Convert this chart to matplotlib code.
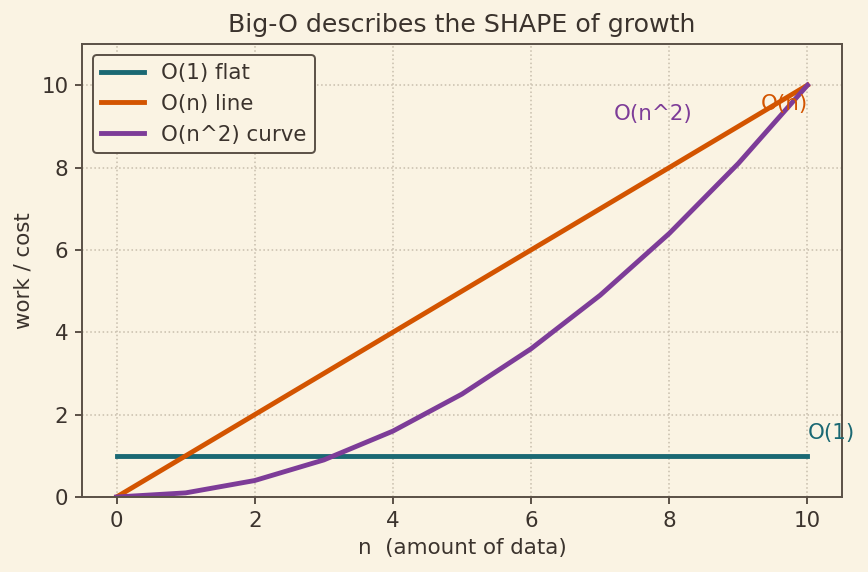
import matplotlib
matplotlib.use("Agg")
import matplotlib.pyplot as plt

n = [0, 1, 2, 3, 4, 5, 6, 7, 8, 9, 10]
o1 = [1, 1, 1, 1, 1, 1, 1, 1, 1, 1, 1]
on = [0, 1, 2, 3, 4, 5, 6, 7, 8, 9, 10]
on2 = [0, 0.1, 0.4, 0.9, 1.6, 2.5, 3.6, 4.9, 6.4, 8.1, 10]

bg = "#faf3e3"
txt = "#3b332d"
spine = "#5a5046"
c1, c2, c3 = "#1a6873", "#d35400", "#7d3c98"

plt.rcParams.update({"font.family": "DejaVu Sans", "text.color": txt,
                     "axes.labelcolor": txt, "xtick.color": spine, "ytick.color": spine,
                     "xtick.labelcolor": txt, "ytick.labelcolor": txt})

DPI = 140
fig = plt.figure(figsize=(868/DPI, 572/DPI), dpi=DPI, facecolor=bg)
ax = fig.add_axes([82/868, 1-497/572, 760/868, 453/572], facecolor=bg)

ax.plot(n, o1, color=c1, lw=2.5, label="O(1) flat")
ax.plot(n, on, color=c2, lw=2.5, label="O(n) line")
ax.plot(n, on2, color=c3, lw=2.5, label="O(n^2) curve")

ax.text(10.0, 1.56, "O(1)", color=c1, fontsize=11, va="center", ha="left")
ax.text(9.32, 9.55, "O(n)", color=c2, fontsize=11, va="center", ha="left")
ax.text(7.2, 9.3, "O(n^2)", color=c3, fontsize=11, va="center", ha="left")

ax.set_xlim(-0.5, 10.5)
ax.set_ylim(0, 11)
ax.set_xticks([0, 2, 4, 6, 8, 10])
ax.set_yticks([0, 2, 4, 6, 8, 10])
ax.tick_params(labelsize=11, width=1.0, length=3.5)
for s in ax.spines.values():
    s.set_color(spine)
    s.set_linewidth(1.0)
ax.grid(True, linestyle=":", color="#c9bfae", linewidth=0.8)
ax.set_title("Big-O describes the SHAPE of growth", fontsize=13, color=txt, pad=6)
ax.set_xlabel("n  (amount of data)", fontsize=11)
ax.set_ylabel("work / cost", fontsize=11)
leg = ax.legend(loc="upper left", fontsize=11, facecolor=bg, edgecolor=spine, framealpha=1)
leg.get_frame().set_linewidth(1.0)

fig.savefig("out.png", dpi=DPI, facecolor=bg)
